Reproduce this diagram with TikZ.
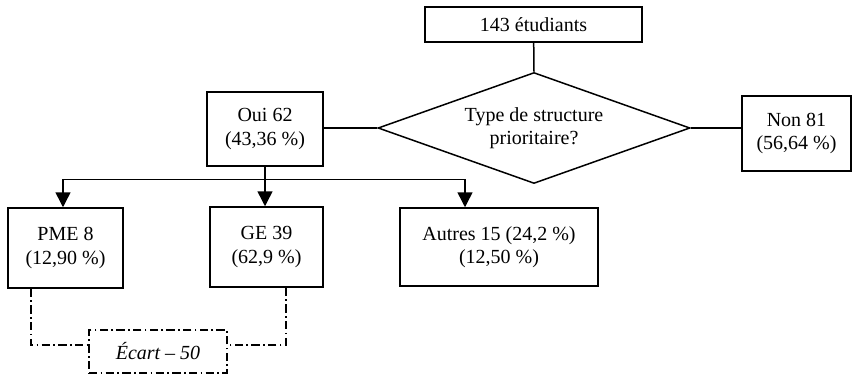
\documentclass[tikz,border=0pt]{standalone}
\usepackage{fontspec}
\setmainfont{Liberation Serif}
\usetikzlibrary{shapes,arrows.meta}
\tikzstyle{r} = [rectangle, align=center, text centered, draw=black, line width=0.9pt, inner sep=1pt, font=\fontsize{12}{14}\selectfont]
\tikzstyle{d} = [diamond, aspect=2.8, inner sep=0pt, align=center, draw=black, line width=0.9pt, font=\fontsize{12}{14}\selectfont]
\tikzstyle{e} = [draw=black, line width=0.8pt, dash pattern=on 5pt off 2pt on 1pt off 2pt]

\begin{document}
\begin{tikzpicture}[x=0.6pt, y=-0.6pt, line width=0.9pt, >={Triangle[length=9pt,width=9pt]}]
		\useasboundingbox (0,0) rectangle (862,375);
		\node[r, minimum width=130.2pt, minimum height=21pt](total) at (533.5,24.5){143 étudiants};
		\node[d, minimum width=187.2pt, minimum height=66.6pt](type) at (534,128){Type de structure\\prioritaire?};
		\node[r, minimum width=69.6pt, minimum height=44.4pt](oui) at (265,129){Oui 62\\(43,36 \%)};
		\node[r, minimum width=65.4pt, minimum height=45pt](non) at (796.5,133.5){Non 81\\(56,64 \%)};
		\node[r, minimum width=69pt, minimum height=48pt](pme) at (65.5,248){PME 8\\(12,90 \%)};
		\node[r, minimum width=67.8pt, minimum height=48pt](ge) at (266.5,247){GE 39\\(62,9 \%)};
		\node[r, minimum width=118.8pt, minimum height=46.8pt](autres) at (499,247){Autres 15 (24,2 \%)\\(12,50 \%)};
		\node[r, e, minimum width=82.8pt, minimum height=25.8pt](ecart) at (158,351.5){\itshape Écart -- 50};
		
		\draw(total)--(type.north);
		\draw(type.west)--(type.west -| oui.east);
		\draw(type.east)--(type.east -| non.west);
		\draw(oui.south)--++(0,13) coordinate(fork);
		\draw[->](fork)-|([xshift=-1.5pt]pme.north);
		\draw[->](fork)--(fork |- ge.north);
		\draw[->](fork)-|([xshift=-20.4pt]autres.north);
		\draw[e]([xshift=-20.7pt]pme.south)|-([yshift=4pt]ecart.west);
		\draw[e]([xshift=11.7pt]ge.south)|-([yshift=4pt]ecart.east);
	\end{tikzpicture}
\end{document}
